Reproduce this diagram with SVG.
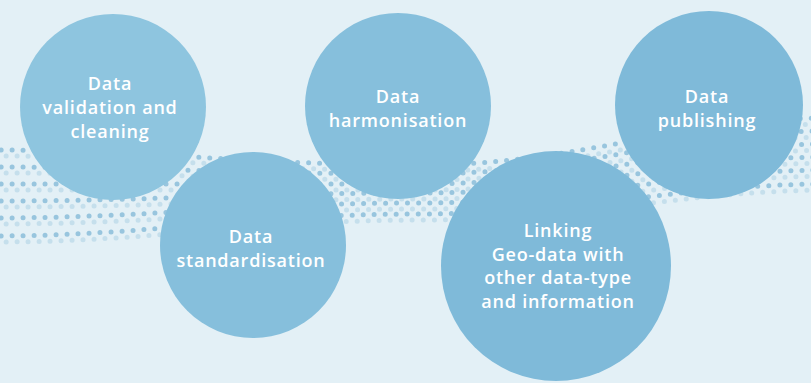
<svg xmlns="http://www.w3.org/2000/svg" width="811" height="383" viewBox="0 0 811 383">
  <style>
    .bg { fill: #e3f0f6; }
    .dots { fill: none; stroke-linecap: round; stroke-width: 5; stroke-dasharray: 0 11; }
    .dark { stroke: #79b4d4; opacity: 0.7; }
    .pale { stroke: #a9d0e4; opacity: 0.5; }
    .c1 { fill: #8ec5df; }
    .c2 { fill: #86bfdc; }
    .c3 { fill: #7fbad9; }
    .label { fill: #ffffff; font-family: "Open Sans", "Liberation Sans", sans-serif; font-weight: 600; font-size: 18px; letter-spacing: 0.8px; text-anchor: middle; }
  </style>

  <rect class="bg" x="0" y="0" width="811" height="383"/>

  <!-- wavy band of dotted lines behind the circles -->
  <defs>
    <g id="wave-rows">
      <path d="M -10 150 C 150 150, 250 165, 420 165 C 580 165, 680 118, 830 118"/>
      <path d="M -10 167 C 150 167, 250 174, 420 174 C 580 174, 680 131, 830 131"/>
      <path d="M -10 184 C 150 184, 250 184, 420 184 C 580 184, 680 144, 830 144"/>
      <path d="M -10 201 C 150 201, 250 193, 420 193 C 580 193, 680 157, 830 157"/>
      <path d="M -10 218 C 150 218, 250 203, 420 203 C 580 203, 680 170, 830 170"/>
      <path d="M -10 236 C 150 236, 250 214, 420 214 C 580 214, 680 184, 830 184"/>
    </g>
  </defs>
  <g id="dot-waves">
    <use href="#wave-rows" class="dots dark"/>
    <use href="#wave-rows" class="dots pale" transform="translate(5 6)"/>
  </g>

  <g id="node-validation">
    <circle class="c1" cx="113" cy="107" r="93"/>
    <text class="label" x="110" y="90">Data</text>
    <text class="label" x="110" y="114">validation and</text>
    <text class="label" x="110" y="138">cleaning</text>
  </g>

  <g id="node-standardisation">
    <circle class="c2" cx="253" cy="245" r="93"/>
    <text class="label" x="251" y="243">Data</text>
    <text class="label" x="251" y="267">standardisation</text>
  </g>

  <g id="node-harmonisation">
    <circle class="c2" cx="398" cy="106" r="93"/>
    <text class="label" x="398" y="103">Data</text>
    <text class="label" x="398" y="127">harmonisation</text>
  </g>

  <g id="node-linking">
    <circle class="c3" cx="556" cy="266" r="115"/>
    <text class="label" x="558" y="237">Linking</text>
    <text class="label" x="558" y="261">Geo-data with</text>
    <text class="label" x="558" y="284">other data-type</text>
    <text class="label" x="558" y="308">and information</text>
  </g>

  <g id="node-publishing">
    <circle class="c3" cx="709" cy="105" r="94"/>
    <text class="label" x="707" y="103">Data</text>
    <text class="label" x="707" y="127">publishing</text>
  </g>
</svg>
